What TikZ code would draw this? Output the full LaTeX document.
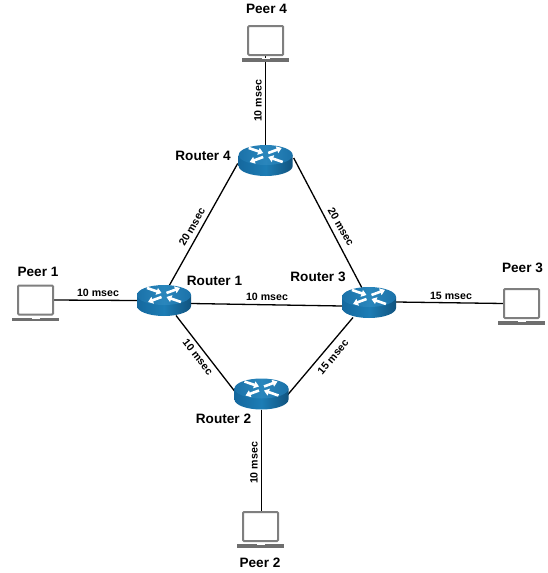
\documentclass[tikz,border=0pt]{standalone}
\usepackage{fontspec}
\setmainfont{Liberation Sans}
\usetikzlibrary{arrows.meta}
\definecolor{rtop}{HTML}{1B72A9}
\definecolor{rtopl}{HTML}{2A86BC}
\definecolor{rside}{HTML}{15689E}
\definecolor{rsided}{HTML}{1D7DB5}
\definecolor{lapgray}{HTML}{7F7F7F}
\definecolor{lapbase}{HTML}{6E6E6E}
\tikzset{
  x=1pt,y=-1pt,
  routerbox/.style={rectangle,minimum width=54pt,minimum height=31pt,inner sep=0pt},
  laptopbox/.style={rectangle,minimum width=35pt,minimum height=29pt,inner sep=0pt},
  link/.style={black,line width=1.3pt},
  peerlabel/.style={font=\bfseries\fontsize{13.6}{15}\selectfont,inner sep=0pt},
  delay/.style={font=\bfseries\fontsize{10.6}{12}\selectfont,inner sep=0pt},
  routerarrow/.style={white,line width=2.6pt,-{Triangle[length=5pt,width=7pt]}},
  router/.pic={
    \shade[left color=rside,right color=rside!80!black,middle color=rsided]
      (-27,-5.5) -- (-27,5.5) .. controls (-27,11) and (-14.9,15.5) .. (0,15.5)
      .. controls (14.9,15.5) and (27,11) .. (27,5.5) -- (27,-5.5) -- cycle;
    \shade[left color=rtop,right color=rtop,middle color=rtopl]
      (0,-5.5) ellipse [x radius=27pt,y radius=10pt];
    \draw[routerarrow] (-17,-12.5) -- (-2.5,-7.5);
    \draw[routerarrow] (2.5,-7.5) -- (16,-12.5);
    \draw[routerarrow] (-2.5,-3.5) -- (-16,1.5);
    \draw[routerarrow] (17,1.5) -- (2.5,-3.5);
  },
  laptop/.pic={
    \draw[lapgray,line width=2pt,fill=white,rounded corners=1pt] (-17.5,-14.5) rectangle (17.5,14.5);
    \fill[lapbase] (-23.5,17.5) rectangle (23.5,21);
    \fill[white] (-4,17.5) rectangle (4,18.6);
  }
}
\begin{document}
\begin{tikzpicture}
\useasboundingbox (0,0) rectangle (548,573);
% nodes
\node[routerbox] (r1) at (164,300.5) {};
\node[routerbox] (r2) at (261.5,394) {};
\node[routerbox] (r3) at (369,302.5) {};
\node[routerbox] (r4) at (265.7,160.5) {};
\node[laptopbox] (p1) at (35.5,300) {};
\node[laptopbox] (p2) at (260.5,526.5) {};
\node[laptopbox] (p3) at (521.5,303.5) {};
\node[laptopbox] (p4) at (265.7,40.5) {};
% connectors
\draw[link] (p1.east) -- (r1.west);
\draw[link] (p3.west) -- ([yshift=0.5pt]r3.east);
\draw[link] ([yshift=6pt]p4.south) -- (r4.north);
\draw[link] (r2.south) -- (r2.south |- p2.north);
\draw[link] ([shift={(5,-14.5)}]r1.center) -- ([shift={(-28,3)}]r4.center);
\draw[link] ([shift={(28,-2.5)}]r4.center) -- ([shift={(-7,-14.5)}]r3.center);
\draw[link] ([shift={(27,3)}]r1.center) -- ([shift={(-27,3.5)}]r3.center);
\draw[link] ([shift={(12,15)}]r1.center) -- ([shift={(-27,-3)}]r2.center);
\draw[link] ([shift={(-16,15)}]r3.center) -- ([shift={(26,1)}]r2.center);
% artwork
\foreach \n in {r1,r2,r3,r4} \pic at (\n) {router};
\foreach \n in {p1,p2,p3,p4} \pic at (\n) {laptop};
% labels
\node[peerlabel] (lp1) at (38,271.5) {Peer 1};
\node[peerlabel] (lp2) at (260,563) {Peer 2};
\node[peerlabel] (lp3) at (522.5,268) {Peer 3};
\node[peerlabel] (lp4) at (266.5,8.5) {Peer 4};
\node[peerlabel] (lr1) at (214.5,281) {Router 1};
\node[peerlabel] (lr2) at (223.5,419) {Router 2};
\node[peerlabel] (lr3) at (318,277) {Router 3};
\node[peerlabel] (lr4) at (203,155.5) {Router 4};
\node[delay] (d1) at (98,293) {10 msec};
\node[delay] (d2) at (267,297) {10 msec};
\node[delay] (d3) at (451,295.5) {15 msec};
\node[delay,rotate=90] (d4) at (258,101) {10 msec};
\node[delay,rotate=90] (d5) at (254,463) {10 msec};
\node[delay,rotate=60] (d6) at (192,227) {20 msec};
\node[delay,rotate=-60] (d7) at (341,227) {20 msec};
\node[delay,rotate=-52] (d8) at (198,357) {10 msec};
\node[delay,rotate=50] (d9) at (333,357) {15 msec};
\end{tikzpicture}
\end{document}
